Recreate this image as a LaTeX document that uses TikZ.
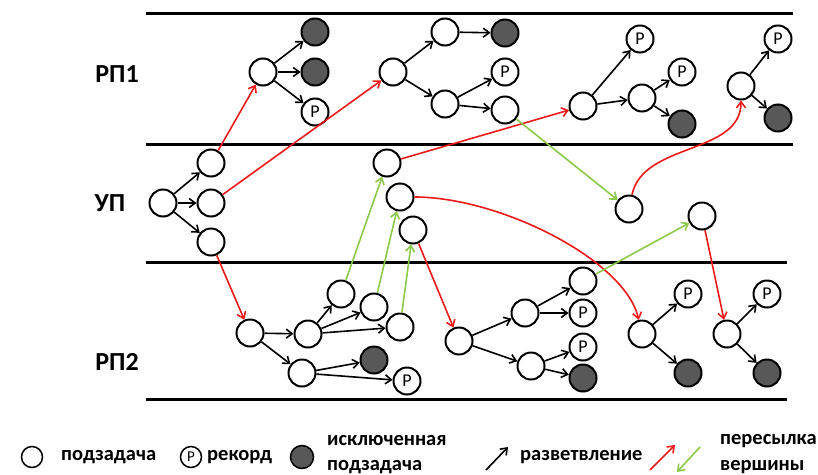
\documentclass[tikz,border=0pt]{standalone}
\usepackage{fontspec}
\setmainfont{Carlito}
\usetikzlibrary{arrows.meta}
\definecolor{fwd}{RGB}{235,25,25}
\definecolor{back}{RGB}{140,200,75}
\definecolor{excl}{RGB}{88,88,88}
\tikzset{
  task/.style={circle,draw=black,line width=2pt,minimum size=27pt,inner sep=0pt,fill=white},
  rec/.style={task,font=\fontsize{18}{18}\selectfont},
  gone/.style={task,fill=excl},
  fork/.style={-{Straight Barb[length=6pt,width=9pt,line width=1.6pt]},line width=1.6pt},
  sendfwd/.style={fork,draw=fwd},
  sendback/.style={fork,draw=back},
  band/.style={line width=3pt},
  lane/.style={font=\bfseries\fontsize{26}{26}\selectfont},
  legtxt/.style={font=\bfseries\fontsize{20.5}{21}\selectfont,anchor=west,inner sep=0pt},
  legtask/.style={task,minimum size=21pt,line width=1.5pt},
}
\begin{document}
\begin{tikzpicture}[x=1pt,y=-1pt]
\useasboundingbox (0,0) rectangle (818,474);

% process bands
\draw[band] (146,13) -- (793,13);
\draw[band] (146,144) -- (793,144);
\draw[band] (146,262) -- (787,262);
\draw[band] (146,399) -- (787,399);

\node[lane] (l1) at (117,74) {РП1};
\node[lane] (l0) at (110,203) {УП};
\node[lane] (l2) at (117,362) {РП2};

% ---- master process
\node[task] (u0) at (163,203) {};
\node[task] (u1) at (211,163) {};
\node[task] (u2) at (211,203) {};
\node[task] (u3) at (211,242) {};
\node[task] (e1) at (387,163) {};
\node[task] (e2) at (400,197) {};
\node[task] (e3) at (413,230) {};
\node[task] (f1) at (629,209) {};
\node[task] (f2) at (702,216) {};

% ---- worker 1
\node[task] (a0) at (263,72) {};
\node[gone] (a1) at (315,32) {};
\node[gone] (a2) at (315,72) {};
\node[rec]  (a3) at (315,112) {Р};
\node[task] (b0) at (393,72) {};
\node[task] (b1) at (445,32) {};
\node[task] (b2) at (445,104) {};
\node[gone] (b3) at (505,33) {};
\node[rec]  (b4) at (505,72) {Р};
\node[task] (b5) at (505,110) {};
\node[task] (c0) at (583,106) {};
\node[rec]  (c1) at (640,39) {Р};
\node[task] (c2) at (642,98) {};
\node[rec]  (c3) at (682,72) {Р};
\node[gone] (c4) at (682,124) {};
\node[task] (d0) at (741,86) {};
\node[rec]  (d1) at (778,39) {Р};
\node[gone] (d2) at (778,118) {};

% ---- worker 2
\node[task] (g0) at (250,333) {};
\node[task] (g1) at (308,334) {};
\node[task] (g2) at (302,373) {};
\node[task] (g3) at (341,294) {};
\node[task] (g4) at (374,307) {};
\node[task] (g5) at (400,327) {};
\node[gone] (g6) at (374,360) {};
\node[rec]  (g7) at (407,381) {Р};
\node[task] (h0) at (459,341) {};
\node[task] (h1) at (525,313) {};
\node[task] (h2) at (531,366) {};
\node[task] (h3) at (583,281) {};
\node[rec]  (h4) at (583,313) {Р};
\node[rec]  (h5) at (583,347) {Р};
\node[gone] (h6) at (583,378) {};
\node[task] (i0) at (642,334) {};
\node[rec]  (i1) at (688,294) {Р};
\node[gone] (i2) at (688,373) {};
\node[task] (j0) at (727,334) {};
\node[rec]  (j1) at (767,294) {Р};
\node[gone] (j2) at (767,373) {};

% ---- branching
\foreach \p/\c in {u0/u1,u0/u2,u0/u3,
    a0/a1,a0/a2,a0/a3,b0/b1,b0/b2,b1/b3,b2/b4,b2/b5,
    c0/c1,c0/c2,c2/c3,c2/c4,d0/d1,d0/d2,
    g0/g1,g0/g2,g1/g3,g1/g4,g1/g5,g2/g6,g2/g7,
    h0/h1,h0/h2,h1/h3,h1/h4,h2/h5,h2/h6,i0/i1,i0/i2,j0/j1,j0/j2}
  \draw[fork] (\p) -- (\c);

% ---- vertex transfers to workers
\draw[sendfwd] (u1) -- (a0);
\draw[sendfwd] (u2) -- (b0);
\draw[sendfwd] (u3) -- (g0);
\draw[sendfwd] (e1) -- (c0);
\draw[sendfwd] (e3) -- (h0);
\draw[sendfwd] (f2) -- (j0);
\draw[sendfwd] (f1) .. controls (643,142) and (741,155) .. (d0);
\draw[sendfwd] (e2) .. controls (500,197) and (625,260) .. (i0);

% ---- vertex transfers back to master
\draw[sendback] (b5) -- (f1);
\draw[sendback] (g3) -- (e1);
\draw[sendback] (g4) -- (e2);
\draw[sendback] (g5) -- (e3);
\draw[sendback] (h3) -- (f2);

% ---- legend
\node[legtask] (k1) at (32,457) {};
\node[legtxt] (t1) at (61,457) {подзадача};
\node[legtask,font=\fontsize{15}{15}\selectfont] (k2) at (191,457) {Р};
\node[legtxt] (t2) at (207,457) {рекорд};
\node[legtask,fill=excl,minimum size=23pt] (k3) at (302,457) {};
\node[legtxt] (t3) at (327,441) {исключенная};
\node[legtxt] (t4) at (327,467) {подзадача};
\coordinate (m1) at (486,470);
\coordinate (m2) at (508,447);
\draw[fork] (m1) -- (m2);
\node[legtxt] (t5) at (520,457) {разветвление};
\coordinate (r1) at (650,470);
\coordinate (r2) at (675,445);
\draw[sendfwd] (r1) -- (r2);
\coordinate (s1) at (700,447);
\coordinate (s2) at (677,472);
\draw[sendback] (s1) -- (s2);
\node[legtxt] (t6) at (720,441) {пересылка};
\node[legtxt] (t7) at (720,467) {вершины};
\end{tikzpicture}
\end{document}
